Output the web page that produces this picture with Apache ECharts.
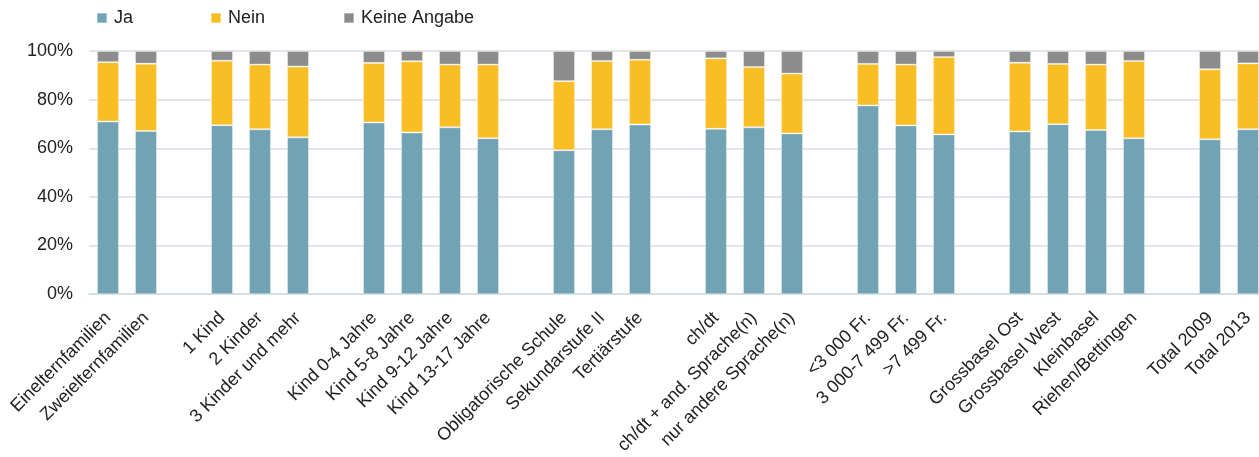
<!DOCTYPE html>
<html>
<head>
<meta charset="utf-8">
<script src="https://cdn.jsdelivr.net/npm/echarts@6/dist/echarts.min.js"></script>
<style>
  html, body { margin: 0; padding: 0; background: #fff; overflow: hidden; }
  /* etwas breiter als das Fenster: der letzte Balken wird rechts abgeschnitten */
  #chart { width: 1267px; height: 457px; }
</style>
</head>
<body>
<div id="chart"></div>
<script>
// Kategorien ('' = Lücke zwischen den Gruppen)
const categories = [
  'Einelternfamilien', 'Zweielternfamilien', '',
  '1 Kind', '2 Kinder', '3 Kinder und mehr', '',
  'Kind 0-4 Jahre', 'Kind 5-8 Jahre', 'Kind 9-12 Jahre', 'Kind 13-17 Jahre', '',
  'Obligatorische Schule', 'Sekundarstufe II', 'Tertiärstufe', '',
  'ch/dt', 'ch/dt + and. Sprache(n)', 'nur andere Sprache(n)', '',
  '<3 000 Fr.', '3 000-7 499 Fr.', '>7 499 Fr.', '',
  'Grossbasel Ost', 'Grossbasel West', 'Kleinbasel', 'Riehen/Bettingen', '',
  'Total 2009', 'Total 2013'
]

// Anteile in %
const ja = [
  71.0, 67.1, null,
  69.5, 67.8, 64.5, null,
  70.6, 66.5, 68.6, 64.1, null,
  59.2, 67.8, 69.8, null,
  68.0, 68.6, 66.1, null,
  77.6, 69.4, 65.7, null,
  66.9, 69.9, 67.5, 64.1, null,
  63.7, 67.8
]
const nein = [
  24.4, 27.7, null,
  26.5, 26.6, 29.1, null,
  24.5, 29.3, 25.8, 30.3, null,
  28.4, 28.1, 26.6, null,
  29.0, 24.8, 24.6, null,
  17.1, 25.0, 31.8, null,
  28.3, 24.8, 26.9, 31.8, null,
  28.8, 27.1
]
const keineAngabe = [
  4.6, 5.2, null,
  4.0, 5.6, 6.4, null,
  4.9, 4.2, 5.6, 5.6, null,
  12.4, 4.1, 3.6, null,
  3.0, 6.6, 9.3, null,
  5.3, 5.6, 2.5, null,
  4.8, 5.3, 5.6, 4.1, null,
  7.5, 5.1
]

const yTicks = [0, 20, 40, 60, 80, 100]

const font = 'Liberation Sans, Arial, sans-serif'
const colors = ['#72a3b5', '#f9be23', '#8c8c8c']

let myChart = echarts.init(document.getElementById('chart'), null, { renderer: 'canvas' })

function barSeries(name, data, color) {
  return {
    name: name,
    type: 'bar',
    stack: 'total',
    data: data,
    barWidth: 22,
    itemStyle: {
      color: color,
      borderColor: 'rgba(255,255,255,0.35)',
      borderWidth: 1
    }
  }
}

const legendBase = {
  top: 9,
  padding: 0,
  itemWidth: 10,
  itemHeight: 10,
  icon: 'rect',
  selectedMode: false,
  textStyle: { fontFamily: font, fontSize: 18, color: '#222', padding: [0, 0, 0, 2] }
}

myChart.setOption({
  animation: false,
  color: colors,
  legend: [
    Object.assign({}, legendBase, { data: ['Ja'], left: 96 }),
    Object.assign({}, legendBase, { data: ['Nein'], left: 210 }),
    Object.assign({}, legendBase, { data: ['Keine Angabe'], left: 343 })
  ],
  grid: {
    left: 89,
    right: 0,
    top: 51,
    bottom: 162,
    containLabel: false
  },
  xAxis: {
    type: 'category',
    data: categories,
    axisLine: { lineStyle: { color: '#d5dde3', width: 1.5 } },
    axisTick: { show: false },
    axisLabel: {
      interval: 0,
      rotate: 45,
      margin: 21,
      fontFamily: font,
      fontSize: 18,
      color: '#222'
    }
  },
  yAxis: {
    type: 'value',
    min: yTicks[0],
    max: yTicks[yTicks.length - 1],
    interval: 20,
    axisLine: { show: false },
    axisTick: { show: false },
    splitLine: { lineStyle: { color: '#d5dde3', width: 1.5 } },
    axisLabel: {
      margin: 16,
      fontFamily: font,
      fontSize: 18,
      color: '#222',
      formatter: v => v + '%'
    }
  },
  series: [
    barSeries('Ja', ja, colors[0]),
    barSeries('Nein', nein, colors[1]),
    barSeries('Keine Angabe', keineAngabe, colors[2])
  ]
})
</script>
</body>
</html>
